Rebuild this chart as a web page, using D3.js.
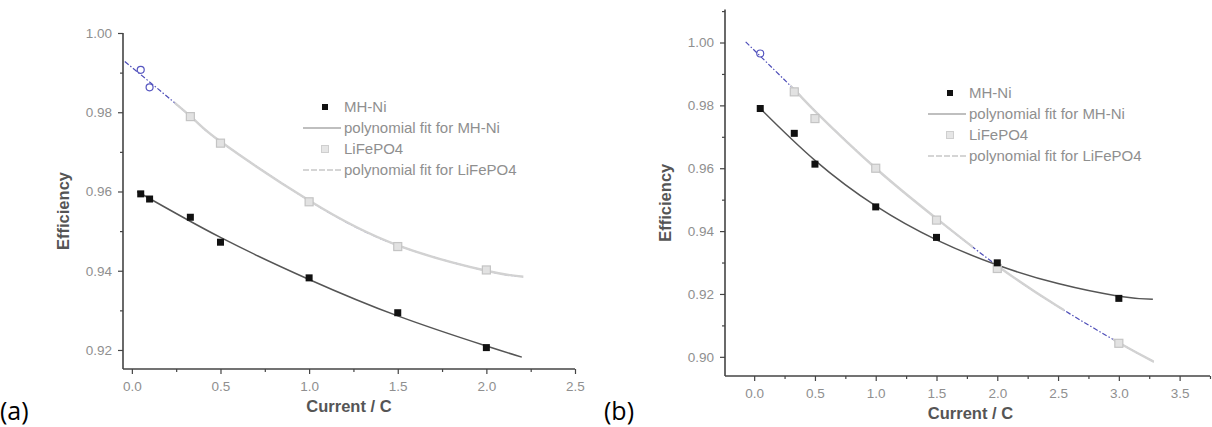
<!DOCTYPE html>
<html lang="en">
<head>
    <meta charset="UTF-8">
    <title>Efficiency vs current</title>
    <script src="https://cdn.jsdelivr.net/npm/d3@7/dist/d3.min.js"></script>
    <style>
        body { margin: 0; background: #fff; }
        svg text { font-family: "Liberation Sans", Arial, sans-serif; }
        .tick-lbl { fill: #8f8f8f; font-size: 13.5px; }
        .ax-title { fill: #555; font-size: 16.5px; font-weight: bold; }
        .legend text { fill: #8f8f8f; font-size: 15px; }
        svg text.panel-tag { font-family: "Open Sans", "Noto Sans", sans-serif; font-size: 25px; fill: #000; }
    </style>
</head>
<body>
<svg width="1212" height="427"></svg>
<script>

    // ---- data ----
    var legendLabels = ['MH-Ni', 'polynomial fit for MH-Ni', 'LiFePO4', 'polynomial fit for LiFePO4'];

    // panel (a)
    var currentA = [0.05, 0.1, 0.33, 0.5, 1.0, 1.5, 2.0];
    var mhniA = [0.9594, 0.9581, 0.9535, 0.9472, 0.9382, 0.9294, 0.9206];
    var lfpA = [0.9907, 0.9863, 0.9789, 0.9722, 0.9574, 0.9461, 0.9402];
    var mhniFitXA = [0.03, 0.5, 1.0, 1.5, 2.0, 2.2];
    var mhniFitA = [0.9600, 0.9484, 0.9378, 0.9286, 0.9210, 0.9182];
    var lfpFitXA = [-0.04, 0.33, 0.5, 1.0, 1.5, 2.0, 2.21];
    var lfpFitA = [0.9928, 0.9790, 0.9726, 0.9577, 0.9464, 0.9400, 0.9385];
    var lfpGrayA = [[0.24, 2.21]];   // where the grey fit hides the blue one

    // panel (b)
    var currentB = [0.05, 0.33, 0.5, 1.0, 1.5, 2.0, 3.0];
    var mhniB = [0.9790, 0.9711, 0.9613, 0.9477, 0.9380, 0.9299, 0.9186];
    var lfpB = [0.9965, 0.9843, 0.9758, 0.9600, 0.9435, 0.9281, 0.9043];
    var mhniFitXB = [0.05, 0.5, 1.0, 1.5, 2.0, 2.5, 3.0, 3.28];
    var mhniFitB = [0.9790, 0.9625, 0.9480, 0.9372, 0.9292, 0.9233, 0.9193, 0.9183];
    var lfpFitXB = [-0.07, 0.33, 0.5, 1.0, 1.5, 2.0, 2.5, 3.0, 3.29];
    var lfpFitB = [1.0002, 0.9850, 0.9782, 0.9600, 0.9440, 0.9290, 0.9160, 0.9045, 0.8984];
    var lfpGrayB = [[0.3, 1.8], [2.0, 2.55], [2.95, 3.29]];

    var svg = d3.select('svg');

    var panels = [
        {
            tag: '(a)', tagX: 0,
            xDomain: [-0.05, 2.5], xRange: [123, 575],
            yDomain: [0.9152, 1.0], yRange: [369, 33],
            xMajor: d3.range(0, 2.51, 0.5), xMinor: d3.range(0.25, 2.5, 0.5),
            yMajor: [0.92, 0.94, 0.96, 0.98, 1.00], yMinor: [0.93, 0.95, 0.97, 0.99],
            x: currentA, mh: mhniA, lfp: lfpA, blueN: 2,
            mhFitX: mhniFitXA, mhFit: mhniFitA, lfpFitX: lfpFitXA, lfpFit: lfpFitA, gray: lfpGrayA,
            legend: {x: 303, y: 107}, titleDx: 0
        },
        {
            tag: '(b)', tagX: 604,
            xDomain: [-0.24, 3.75], xRange: [725, 1210],
            yDomain: [0.8939, 1.0105], yRange: [376, 9.5],
            xMajor: d3.range(0, 3.51, 0.5), xMinor: d3.range(0.25, 3.8, 0.5),
            yMajor: [0.90, 0.92, 0.94, 0.96, 0.98, 1.00], yMinor: [0.91, 0.93, 0.95, 0.97, 0.99, 1.01],
            x: currentB, mh: mhniB, lfp: lfpB, blueN: 1,
            mhFitX: mhniFitXB, mhFit: mhniFitB, lfpFitX: lfpFitXB, lfpFit: lfpFitB, gray: lfpGrayB,
            legend: {x: 928, y: 93}, titleDx: 3
        }
    ];

    panels.forEach(drawPanel);

    function drawPanel(p) {
        var xScale = d3.scaleLinear().domain(p.xDomain).range(p.xRange),
            yScale = d3.scaleLinear().domain(p.yDomain).range(p.yRange);

        var g = svg.append('g');
        var x0 = p.xRange[0], yB = p.yRange[0];

        // axes
        var xAxis = g.append('g').attr('transform', 'translate(0,' + yB + ')')
            .call(d3.axisBottom(xScale).tickValues(p.xMajor).tickSize(5).tickPadding(7).tickFormat(d3.format('.1f')));
        g.append('g').attr('transform', 'translate(0,' + yB + ')')
            .call(d3.axisBottom(xScale).tickValues(p.xMinor).tickSize(3).tickFormat(''))
            .select('.domain').remove();
        var yAxis = g.append('g').attr('transform', 'translate(' + x0 + ',0)')
            .call(d3.axisLeft(yScale).tickValues(p.yMajor).tickSize(5).tickPadding(6).tickFormat(d3.format('.2f')));
        g.append('g').attr('transform', 'translate(' + x0 + ',0)')
            .call(d3.axisLeft(yScale).tickValues(p.yMinor).tickSize(3).tickFormat(''))
            .select('.domain').remove();

        g.selectAll('.domain').attr('stroke', '#444').attr('stroke-width', 1.6)
            .attr('d', null);
        xAxis.select('.domain').attr('d', 'M' + x0 + ',0H' + p.xRange[1]);
        yAxis.select('.domain').attr('d', 'M0,' + yB + 'V' + p.yRange[1]);
        g.selectAll('.tick line').attr('stroke', '#444').attr('stroke-width', 1.2);
        g.selectAll('.tick text').attr('class', 'tick-lbl').attr('font-size', null).attr('font-family', null);

        var midX = (p.xRange[0] + p.xRange[1]) / 2 + p.titleDx;
        g.append('text').attr('class', 'ax-title')
            .attr('x', midX).attr('y', yB + 43).attr('text-anchor', 'middle')
            .text('Current / C');
        g.append('text').attr('class', 'ax-title')
            .attr('transform', 'translate(' + (x0 - 54) + ',' + ((p.yRange[0] + p.yRange[1]) / 2 + 10) + ') rotate(-90)')
            .attr('text-anchor', 'middle')
            .text('Efficiency');

        g.append('text').attr('class', 'panel-tag')
            .attr('x', p.tagX).attr('y', 420).text(p.tag);

        var line = d3.line().x(function(d) { return xScale(d[0]); })
            .y(function(d) { return yScale(d[1]); })
            .curve(d3.curveNatural);

        // LiFePO4 fit: blue dash-dot underneath, light grey over most of it
        var lfpFitPts = d3.zip(p.lfpFitX, p.lfpFit);
        g.append('path').attr('d', line(lfpFitPts)).attr('fill', 'none')
            .attr('stroke', '#4d4db8').attr('stroke-width', 1.2).attr('stroke-dasharray', '5,2,1.5,2');

        var clipId = 'gray-' + p.tag.replace(/\W/g, '');
        var clip = g.append('clipPath').attr('id', clipId);
        p.gray.forEach(function(r) {
            clip.append('rect').attr('x', xScale(r[0])).attr('y', 0)
                .attr('width', xScale(r[1]) - xScale(r[0])).attr('height', 427);
        });
        g.append('path').attr('d', line(lfpFitPts)).attr('fill', 'none')
            .attr('clip-path', 'url(#' + clipId + ')')
            .attr('stroke', '#d2d2d2').attr('stroke-width', 2.4);

        // MH-Ni fit
        g.append('path').attr('d', line(d3.zip(p.mhFitX, p.mhFit))).attr('fill', 'none')
            .attr('stroke', '#555').attr('stroke-width', 1.5);

        // LiFePO4 points
        var lfpPts = d3.zip(p.x, p.lfp);
        g.selectAll('.lfp-blue').data(lfpPts.slice(0, p.blueN)).enter().append('circle')
            .attr('cx', function(d) { return xScale(d[0]); })
            .attr('cy', function(d) { return yScale(d[1]); })
            .attr('r', 3.5).attr('fill', 'none').attr('stroke', '#5555c0').attr('stroke-width', 1.2);
        g.selectAll('.lfp-gray').data(lfpPts.slice(p.blueN)).enter().append('rect')
            .attr('x', function(d) { return xScale(d[0]) - 4; })
            .attr('y', function(d) { return yScale(d[1]) - 4; })
            .attr('width', 8).attr('height', 8)
            .attr('fill', '#e2e2e2').attr('stroke', '#c4c4c4').attr('stroke-width', 1.2);

        // MH-Ni points
        g.selectAll('.mh').data(d3.zip(p.x, p.mh)).enter().append('rect')
            .attr('x', function(d) { return xScale(d[0]) - 3.5; })
            .attr('y', function(d) { return yScale(d[1]) - 3.5; })
            .attr('width', 7).attr('height', 7).attr('fill', '#111');

        // legend
        var lg = g.append('g').attr('class', 'legend')
            .attr('transform', 'translate(' + p.legend.x + ',' + p.legend.y + ')');
        var item = lg.selectAll('g').data(legendLabels).enter().append('g')
            .attr('transform', function(d, i) { return 'translate(0,' + i * 21 + ')'; });
        item.append('text').attr('x', 41).attr('y', 5).text(function(d) { return d; });
        item.filter(function(d, i) { return i === 1; }).append('line')
            .attr('x1', 0).attr('x2', 38).attr('stroke', '#aaa').attr('stroke-width', 1.3);
        item.filter(function(d, i) { return i === 3; }).append('line')
            .attr('x1', 0).attr('x2', 38).attr('stroke', '#c8c8c8').attr('stroke-width', 1.3)
            .attr('stroke-dasharray', '6,2');
        item.filter(function(d, i) { return i === 0; }).append('rect')
            .attr('x', 19).attr('y', -3).attr('width', 6).attr('height', 6).attr('fill', '#111');
        item.filter(function(d, i) { return i === 2; }).append('rect')
            .attr('x', 18.5).attr('y', -3.5).attr('width', 7).attr('height', 7)
            .attr('fill', '#e6e6e6').attr('stroke', '#cfcfcf');
    }

</script>
</body>
</html>
